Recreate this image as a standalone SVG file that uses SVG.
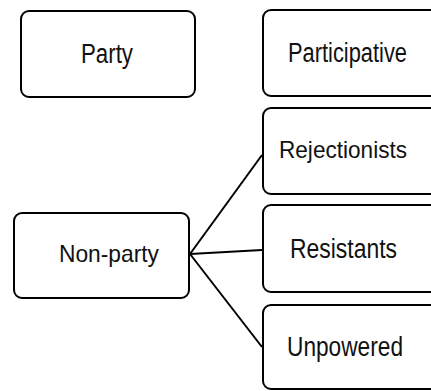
<svg xmlns="http://www.w3.org/2000/svg" width="431" height="391" viewBox="0 0 431 391">
<style>
.box{fill:#fff;stroke:#000;stroke-width:2}
.lbl{font-family:"Liberation Sans",Arial,sans-serif;fill:#111}
.big{font-size:27px}
.sm{font-size:24px}
.conn{stroke:#000;stroke-width:2;fill:none}
</style>
<rect width="431" height="391" fill="#fff"/>
<g id="party">
<rect class="box" x="21" y="11" width="174" height="86" rx="8"/>
<text class="lbl big" x="81" y="63" textLength="52" lengthAdjust="spacingAndGlyphs">Party</text>
</g>
<g id="participative">
<rect class="box" x="263" y="10" width="200" height="86" rx="8"/>
<text class="lbl big" x="288" y="62" textLength="119" lengthAdjust="spacingAndGlyphs">Participative</text>
</g>
<g id="rejectionists">
<rect class="box" x="263" y="108" width="200" height="86" rx="8"/>
<text class="lbl sm" x="279" y="158" textLength="128" lengthAdjust="spacingAndGlyphs">Rejectionists</text>
</g>
<g id="resistants">
<rect class="box" x="263" y="205" width="200" height="87" rx="8"/>
<text class="lbl big" x="290" y="258" textLength="107" lengthAdjust="spacingAndGlyphs">Resistants</text>
</g>
<g id="unpowered">
<rect class="box" x="263" y="305" width="200" height="84" rx="8"/>
<text class="lbl big" x="287" y="356" textLength="116" lengthAdjust="spacingAndGlyphs">Unpowered</text>
</g>
<g id="nonparty">
<rect class="box" x="14" y="213" width="175" height="85" rx="8"/>
<text class="lbl sm" x="59" y="262" textLength="100" lengthAdjust="spacingAndGlyphs">Non-party</text>
</g>
<g id="connectors">
<line class="conn" x1="190" y1="254" x2="262" y2="155"/>
<line class="conn" x1="190" y1="254" x2="262" y2="250"/>
<line class="conn" x1="190" y1="254" x2="262" y2="347"/>
</g>
</svg>
